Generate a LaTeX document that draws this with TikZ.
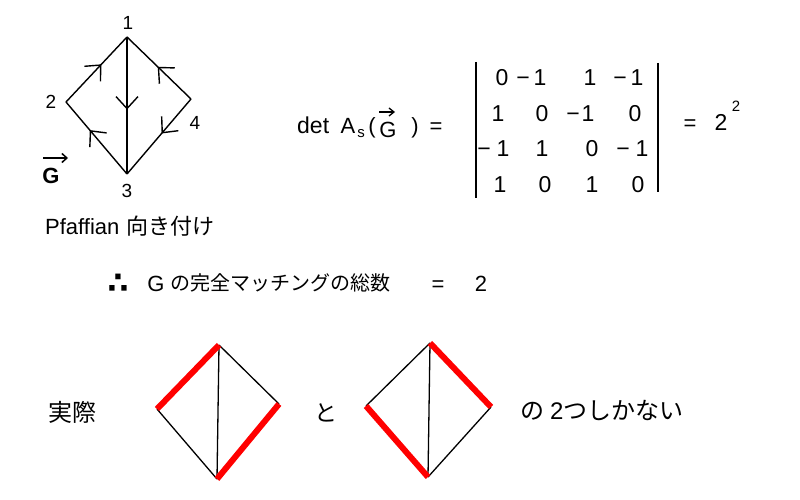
\documentclass[tikz,border=0pt]{standalone}
\usepackage{fontspec}
\setmainfont{Liberation Sans}
\newfontfamily\jp{Noto Sans CJK JP}
\newfontfamily\dv{DejaVu Sans}
\usetikzlibrary{arrows.meta,decorations.markings}
\tikzset{
  gedge/.style={line width=1.4pt, black},
  midarrow/.style={postaction={decorate},decoration={markings,mark=at position #1 with {\arrow{Straight Barb[length=12pt,width=22pt,line width=1.4pt]}}}},
  vlbl/.style={inner sep=0pt, anchor=base, font=\fontsize{19}{21}\selectfont},
  txt/.style={inner sep=0pt, anchor=base, font=\fontsize{22}{25}\selectfont},
  txtw/.style={inner sep=0pt, anchor=base west, font=\fontsize{22}{25}\selectfont},
  ent/.style={inner sep=0pt, anchor=base, font=\fontsize{23}{26}\selectfont},
  bar/.style={line width=2pt, black},
  thin/.style={line width=1.3pt, black},
  match/.style={line width=6pt, red},
}
\begin{document}
\begin{tikzpicture}[x=1pt,y=-1pt]
\useasboundingbox[fill=white] (0,0) rectangle (800,500);

% ---- top graph ----
\coordinate (v1) at (127,37);
\coordinate (v2) at (66,102);
\coordinate (v4) at (191,99);
\coordinate (v3) at (127,174);
\draw[gedge, midarrow=0.58] (v2) -- (v1);
\draw[gedge, midarrow=0.52] (v4) -- (v1);
\draw[gedge, midarrow=0.53] (v1) -- (v3);
\draw[gedge, midarrow=0.46] (v4) -- (v3);
\draw[gedge, midarrow=0.61] (v3) -- (v2);
\node[vlbl] (l1) at (128,30) {1};
\node[vlbl] (l2) at (51,109) {2};
\node[vlbl] (l4) at (195,129) {4};
\node[vlbl] (l3) at (127,197) {3};

% G with arrow
\node[txt, font=\fontsize{22}{25}\selectfont\bfseries] (Gvec) at (51,183) {G};
\coordinate (ga1) at (43,158);
\coordinate (ga2) at (68,158);
\draw[line width=1.5pt, -{Straight Barb[length=5pt,width=9pt]}] (ga1) -- (ga2);

% Pfaffian label
\node[txtw] (pf) at (45,234) {Pfaffian\hspace{7pt}{\jp 向き付け}};

% ---- determinant ----
\node[txtw, font=\fontsize{23}{26}\selectfont] (det) at (297,133) {det};
\node[txt] (A) at (348,133) {A};
\node[inner sep=0pt, anchor=base, font=\fontsize{15}{17}\selectfont] (s) at (361,138) {s};
\node[txt] (lp) at (372,133) {(};
\node[txt] (G2) at (388,137) {G};
\coordinate (gb1) at (379,112);
\coordinate (gb2) at (395,112);
\draw[line width=1.3pt, -{Straight Barb[length=5pt,width=8pt]}] (gb1) -- (gb2);
\node[txt] (rp) at (415,133) {)};
\node[txt] (eq1) at (436,133) {=};

% matrix bars
\coordinate (lb1) at (476,62);
\coordinate (lb2) at (476,198);
\coordinate (rb1) at (658,63);
\coordinate (rb2) at (658,192);
\draw[bar] (lb1) -- (lb2);
\draw[bar] (rb1) -- (rb2);

% row 1
\node[ent] (a11) at (502,86) {0};
\node[ent] (m12) at (523,86) {−};
\node[ent] (a12) at (540,86) {1};
\node[ent] (a13) at (590,86) {1};
\node[ent] (m14) at (620,86) {−};
\node[ent] (a14) at (637,86) {1};
% row 2
\node[ent] (a21) at (498,122) {1};
\node[ent] (a22) at (542,122) {0};
\node[ent] (m23) at (573,122) {−};
\node[ent] (a23) at (588,122) {1};
\node[ent] (a24) at (635,122) {0};
% row 3
\node[ent] (m31) at (484,156) {−};
\node[ent] (a31) at (503,156) {1};
\node[ent] (a32) at (542,156) {1};
\node[ent] (a33) at (592,156) {0};
\node[ent] (m34) at (623,156) {−};
\node[ent] (a34) at (642,156) {1};
% row 4
\node[ent] (a41) at (500,192) {1};
\node[ent] (a42) at (545,192) {0};
\node[ent] (a43) at (592,192) {1};
\node[ent] (a44) at (638,192) {0};

\node[txt] (eq2) at (690,131) {=};
\node[ent] (two) at (721,131) {2};
\node[inner sep=0pt, anchor=base, font=\fontsize{15}{17}\selectfont] (sup) at (736,112) {2};

% ---- middle line ----
\node[inner sep=0pt, anchor=base, font=\fontsize{30}{32}\selectfont\dv\bfseries] (ther) at (118,293) {∴};
\node[txt] (G3) at (156,291) {G};
\node[inner sep=0pt, anchor=base west, font=\fontsize{20}{24}\selectfont\jp] (jp1) at (170,290) {の完全マッチングの総数};
\node[txt] (eq3) at (438,291) {=};
\node[txt] (two2) at (481,291) {2};

% ---- bottom ----
\node[inner sep=0pt, anchor=base west, font=\fontsize{24}{27}\selectfont\jp] (jis) at (48,421) {実際};
\node[inner sep=0pt, anchor=base, font=\fontsize{23}{26}\selectfont\jp] (to) at (326,421) {と};
\node[inner sep=0pt, anchor=base west, font=\fontsize{24}{27}\selectfont\jp] (nokori) at (520,419) {の\hspace{6pt}{\fontspec{Liberation Sans}2}つしかない};

% left diamond
\coordinate (t1) at (219,345);
\coordinate (le1) at (157,409);
\coordinate (r1) at (279,404);
\coordinate (b1) at (217,479);
\coordinate (m1) at (218,412);
\draw[thin] (t1) -- (r1);
\draw[thin] (le1) -- (b1);
\draw[thin] (t1) -- (m1) -- (b1);
\draw[match] (t1) -- (le1);
\draw[match] (r1) -- (b1);

% right diamond
\coordinate (t2) at (430,343);
\coordinate (le2) at (366,406);
\coordinate (r2) at (491,407);
\coordinate (b2) at (428,477);
\coordinate (m2) at (429,410);
\draw[thin] (t2) -- (le2);
\draw[thin] (r2) -- (b2);
\draw[thin] (t2) -- (m2) -- (b2);
\draw[match] (t2) -- (r2);
\draw[match] (le2) -- (b2);
\end{tikzpicture}
\end{document}
